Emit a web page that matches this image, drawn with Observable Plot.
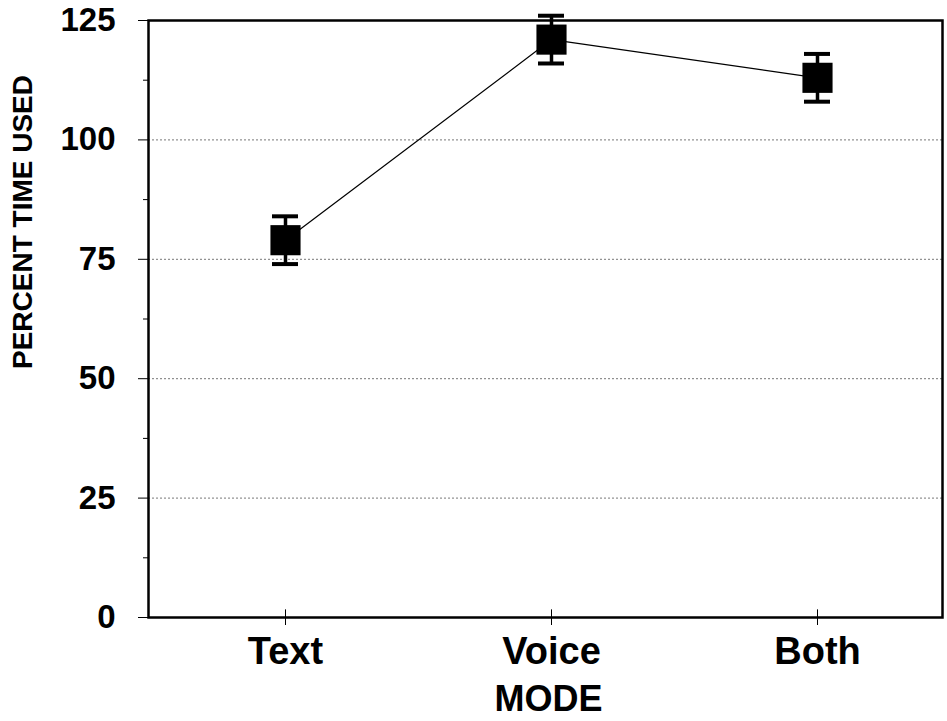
<!DOCTYPE html>
<html>
<head>
<meta charset="utf-8">
<script src="https://cdn.jsdelivr.net/npm/d3@7"></script>
<script src="https://cdn.jsdelivr.net/npm/@observablehq/plot@0.6"></script>
<style>
  html, body { margin: 0; padding: 0; background: #fff; }
  #chart svg { display: block; }
</style>
</head>
<body>
<div id="chart"></div>
<script>
const modes = ["Text", "Voice", "Both"];
const means = [79, 121, 113];
const errLow = [74, 116, 108];
const errHigh = [84, 126, 118];
const yTicks = [0, 25, 50, 75, 100, 125];
const yMinorTicks = [12.5, 37.5, 62.5, 87.5, 112.5];
const gridTicks = [25, 50, 75, 100];
const yLabel = "PERCENT TIME USED";
const xLabel = "MODE";

const data = modes.map((m, i) => ({mode: m, mean: means[i], lo: errLow[i], hi: errHigh[i]}));

const chart = Plot.plot({
  width: 947,
  height: 721,
  marginLeft: 148,
  marginRight: 5,
  marginTop: 20,
  marginBottom: 104,
  style: {fontFamily: "'Liberation Sans', Arial, sans-serif", fontWeight: "bold", color: "black", background: "white"},
  x: {type: "band", domain: modes, range: [152, 950], padding: 0},
  y: {domain: [0, 125]},
  marks: [
    Plot.gridY(gridTicks, {stroke: "#777", strokeOpacity: 1, strokeWidth: 1, strokeDasharray: "2,2"}),
    Plot.frame({stroke: "black", strokeWidth: 2.5}),
    Plot.axisY({ticks: yMinorTicks, tickSize: 5, tickFormat: () => "", label: null}),
    Plot.axisY({ticks: yTicks, tickSize: 10, tickPadding: 23, fontSize: 33, label: null, tickFormat: d3.format("d")}),
    Plot.axisX({tickSize: 8, tickPadding: 12, fontSize: 38, label: null}),
    Plot.ruleX(modes, {x: d => d, y1: 0, y2: 1.6, stroke: "black", strokeWidth: 1}),
    Plot.line(data, {x: "mode", y: "mean", stroke: "black", strokeWidth: 1.2}),
    Plot.ruleX(data, {x: "mode", y1: "lo", y2: "hi", stroke: "black", strokeWidth: 3.5}),
    Plot.tickY(data, {x: "mode", y: "lo", stroke: "black", strokeWidth: 4, insetLeft: 120, insetRight: 120}),
    Plot.tickY(data, {x: "mode", y: "hi", stroke: "black", strokeWidth: 4, insetLeft: 120, insetRight: 120}),
    Plot.dot(data, {x: "mode", y: "mean", symbol: "square", r: 17, fill: "black", stroke: "none"}),
    Plot.text([yLabel], {text: d => d, frameAnchor: "left", dx: -125, dy: -97, rotate: -90, fontSize: 28, fontWeight: "bold", textAnchor: "middle"}),
    Plot.text([xLabel], {text: d => d, frameAnchor: "bottom", lineAnchor: "bottom", dx: 3, dy: 93, fontSize: 36, fontWeight: "bold", textAnchor: "middle"})
  ]
});
document.getElementById("chart").appendChild(chart);
</script>
</body>
</html>
